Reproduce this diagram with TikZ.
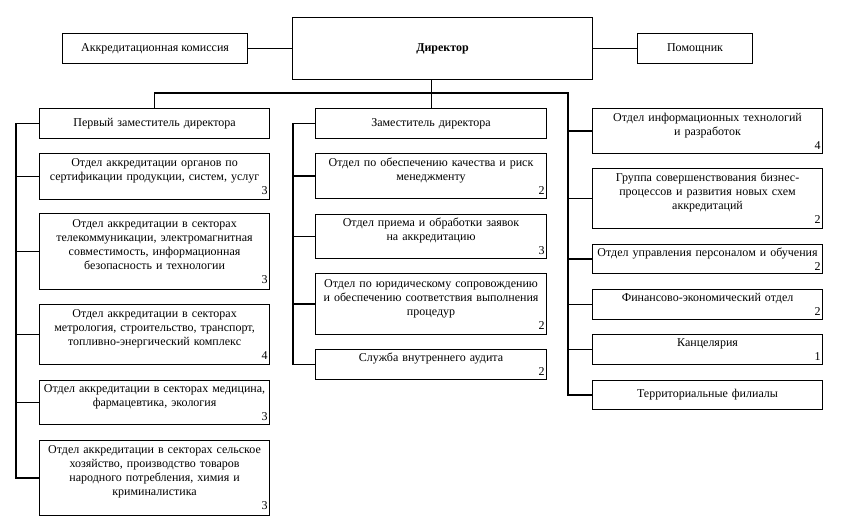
\documentclass[tikz,border=0pt]{standalone}
\usepackage{fontspec}
\setmainfont{Liberation Serif}
\usetikzlibrary{calc}

\begin{document}
\begin{tikzpicture}[x=1pt,y=-1pt,
    head/.style={draw,line width=1.1pt,anchor=north west,font=\fontsize{12}{14}\selectfont},
    unit/.style={draw,line width=1.1pt,anchor=north west,inner xsep=2pt,inner ysep=2pt,
      text width=226pt,align=center,font=\fontsize{12}{14}\selectfont},
    link/.style={line width=1.1pt}]
    \useasboundingbox (0,0) rectangle (847,521);

    % director and the two boxes beside it
    \node[head,minimum width=300pt,minimum height=62pt,font=\fontsize{12}{14}\selectfont\bfseries] (dir) at (292,17) {Директор};
    \node[head,minimum width=185pt,minimum height=30pt] (comm) at (62,33) {Аккредитационная комиссия};
    \node[head,minimum width=115pt,minimum height=30pt] (aide) at (637,33) {Помощник};
    \draw[link] (comm.east) -- (dir.west |- comm.east);
    \draw[link] (dir.east |- aide.west) -- (aide.west);

    % first deputy column
    \node[unit,minimum height=30pt] (l0) at (39,108) {Первый заместитель директора};
    \node[unit,minimum height=46pt] (l1) at (39,153) {Отдел аккредитации органов по\\сертификации продукции, систем, услуг\\\mbox{}\hfill 3};
    \node[unit,minimum height=76pt] (l2) at (39,213) {Отдел аккредитации в секторах\\телекоммуникации, электромагнитная\\совместимость, информационная\\безопасность и технологии\\\mbox{}\hfill 3};
    \node[unit,minimum height=60pt] (l3) at (39,304) {Отдел аккредитации в секторах\\метрология, строительство, транспорт,\\топливно-энергический комплекс\\\mbox{}\hfill 4};
    \node[unit,minimum height=44pt] (l4) at (39,380) {Отдел аккредитации в секторах медицина,\\фармацевтика, экология\\\mbox{}\hfill 3};
    \node[unit,minimum height=75pt] (l5) at (39,440) {Отдел аккредитации в секторах сельское\\хозяйство, производство товаров\\народного потребления, химия и\\криминалистика\\\mbox{}\hfill 3};

    % deputy column
    \node[unit,minimum height=30pt,text width=227pt] (m0) at (315,108) {Заместитель директора};
    \node[unit,minimum height=45pt,text width=227pt] (m1) at (315,153) {Отдел по обеспечению качества и риск\\менеджменту\\\mbox{}\hfill 2};
    \node[unit,minimum height=44pt,text width=227pt] (m2) at (315,214) {Отдел приема и обработки заявок\\на аккредитацию\\\mbox{}\hfill 3};
    \node[unit,minimum height=61pt,text width=227pt] (m3) at (315,273) {Отдел по юридическому сопровождению\\и обеспечению соответствия выполнения\\процедур\\\mbox{}\hfill 2};
    \node[unit,minimum height=30pt,text width=227pt] (m4) at (315,349) {Служба внутреннего аудита\\\mbox{}\hfill 2};

    % units under the director
    \node[unit,minimum height=45pt] (r1) at (592,108) {Отдел информационных технологий\\и разработок\\\mbox{}\hfill 4};
    \node[unit,minimum height=60pt] (r2) at (592,168) {Группа совершенствования бизнес-\\процессов и развития новых схем\\аккредитаций\\\mbox{}\hfill 2};
    \node[unit,minimum height=29pt] (r3) at (592,244) {Отдел управления персоналом и обучения\\\mbox{}\hfill 2};
    \node[unit,minimum height=30pt] (r4) at (592,289) {Финансово-экономический отдел\\\mbox{}\hfill 2};
    \node[unit,minimum height=30pt] (r5) at (592,334) {Канцелярия\\\mbox{}\hfill 1};
    \node[unit,minimum height=29pt] (r6) at (592,380) {Территориальные филиалы};

    % bus from the director
    \coordinate (bus) at (568,93);
    \coordinate (lspine) at (16,0);
    \coordinate (mspine) at (293,0);
    \draw[link] (m0.north) -- (m0.north |- dir.south);
    \draw[link] (l0.north) |- (bus) -- (bus |- r6.west) -- (r6.west);
    \foreach \n in {r1,r2,r3,r4,r5}
      \draw[link] (bus |- \n.west) -- (\n.west);

    % left spine
    \draw[link] (l0.west) -- (lspine |- l0.west) -- (lspine |- l5.west) -- (l5.west);
    \foreach \n in {l1,l2,l3,l4}
      \draw[link] (lspine |- \n.west) -- (\n.west);

    % middle spine
    \draw[link] (m0.west) -- (mspine |- m0.west) -- (mspine |- m4.west) -- (m4.west);
    \foreach \n in {m1,m2,m3}
      \draw[link] (mspine |- \n.west) -- (\n.west);
\end{tikzpicture}
\end{document}
